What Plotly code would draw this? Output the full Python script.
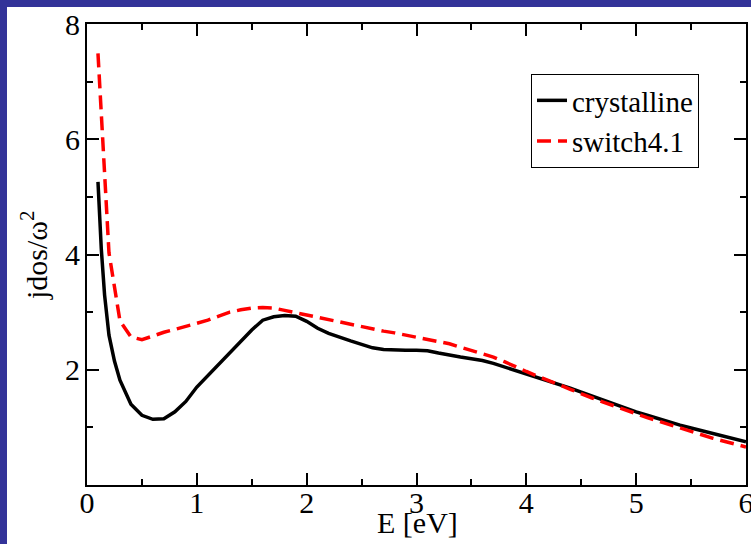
import plotly.graph_objects as go

# ---- data ----
e_cryst = [0.1, 0.13, 0.16, 0.2, 0.25, 0.3, 0.4, 0.5, 0.6, 0.7, 0.8, 0.9, 1.0,
           1.1, 1.2, 1.3, 1.4, 1.5, 1.6, 1.7, 1.8, 1.9, 2.0, 2.1, 2.2, 2.3, 2.4,
           2.5, 2.6, 2.7, 2.8, 2.9, 3.0, 3.1, 3.2, 3.3, 3.4, 3.5, 3.6, 3.7, 3.8,
           3.9, 4.0, 4.1, 4.2, 4.3, 4.4, 4.5, 4.6, 4.7, 4.8, 4.9, 5.0, 5.1, 5.2,
           5.3, 5.4, 5.5, 5.6, 5.7, 5.8, 5.9, 6.0]
jdos_cryst = [5.26, 4.10, 3.30, 2.60, 2.15, 1.82, 1.40, 1.21, 1.14, 1.15, 1.27,
              1.45, 1.70, 1.90, 2.08, 2.28, 2.48, 2.69, 2.86, 2.92, 2.94, 2.93,
              2.84, 2.72, 2.63, 2.56, 2.50, 2.44, 2.38, 2.35, 2.34, 2.34, 2.34,
              2.33, 2.29, 2.25, 2.22, 2.19, 2.16, 2.11, 2.05, 1.98, 1.92, 1.86,
              1.80, 1.74, 1.68, 1.61, 1.54, 1.47, 1.40, 1.33, 1.27, 1.21, 1.15,
              1.10, 1.04, 0.99, 0.94, 0.89, 0.84, 0.80, 0.75]

e_switch = [0.1, 0.2, 0.3, 0.4, 0.5, 0.6, 0.7, 0.8, 0.9, 1.0, 1.1, 1.2, 1.3,
            1.4, 1.5, 1.6, 1.7, 1.8, 1.9, 2.0, 2.1, 2.2, 2.3, 2.4, 2.5, 2.6,
            2.7, 2.8, 2.9, 3.0, 3.1, 3.2, 3.3, 3.4, 3.5, 3.6, 3.7, 3.8, 3.9,
            4.0, 4.1, 4.2, 4.3, 4.4, 4.5, 4.6, 4.7, 4.8, 4.9, 5.0, 5.1, 5.2,
            5.3, 5.4, 5.5, 5.6, 5.7, 5.8, 5.9, 6.0]
jdos_switch = [7.49, 4.03, 2.85, 2.57, 2.52, 2.59, 2.65, 2.70, 2.75, 2.80, 2.86,
               2.93, 3.00, 3.04, 3.07, 3.08, 3.07, 3.03, 2.99, 2.95, 2.91, 2.86,
               2.83, 2.79, 2.75, 2.71, 2.67, 2.64, 2.60, 2.56, 2.53, 2.49, 2.45,
               2.39, 2.33, 2.28, 2.22, 2.14, 2.05, 1.97, 1.89, 1.82, 1.74, 1.66,
               1.58, 1.51, 1.44, 1.37, 1.31, 1.24, 1.17, 1.11, 1.05, 0.98, 0.93,
               0.87, 0.81, 0.76, 0.71, 0.66]

x_ticks = [0, 1, 2, 3, 4, 5, 6]
y_ticks = [0, 2, 4, 6, 8]
y_ticktext = ["", "2", "4", "6", "8"]
y_minor = [1, 3, 5, 7]

FONT = "Liberation Serif"

fig = go.Figure()
fig.add_trace(go.Scatter(x=e_cryst, y=jdos_cryst, mode="lines", name="crystalline",
                         line=dict(color="black", width=3.5)))
fig.add_trace(go.Scatter(x=e_switch, y=jdos_switch, mode="lines", name="switch4.1",
                         line=dict(color="#ff0000", width=3.5, dash="14px,7px")))

W, H = 751, 544
L, R, T, B = 87, 5, 24, 59
pw, ph = W - L - R, H - T - B

def px_to_paper_x(px):
    return (px - L) / pw

def px_to_paper_y(py):
    return (H - B - py) / ph

fig.update_layout(
    width=W, height=H,
    margin=dict(l=L, r=R, t=T, b=B, pad=0),
    paper_bgcolor="#333399",
    plot_bgcolor="white",
    font=dict(family=FONT, color="black", size=30),
    shapes=[dict(type="rect", xref="paper", yref="paper", layer="below",
                 x0=px_to_paper_x(7), x1=px_to_paper_x(770),
                 y0=px_to_paper_y(570), y1=px_to_paper_y(7),
                 fillcolor="white", line=dict(width=0))],
    showlegend=True,
    legend=dict(x=px_to_paper_x(531), y=px_to_paper_y(121), xanchor="left", yanchor="middle",
                bgcolor="white", bordercolor="black", borderwidth=1,
                font=dict(family=FONT, size=29, color="black"),
                tracegroupgap=0, itemwidth=30),
    annotations=[
        dict(text="E [eV]", xref="paper", yref="paper", x=px_to_paper_x(417),
             y=px_to_paper_y(522), xanchor="center", yanchor="middle", showarrow=False,
             font=dict(family=FONT, size=30, color="black")),
        dict(text="jdos/ω<sup>2</sup>", xref="paper", yref="paper", x=px_to_paper_x(34),
             y=px_to_paper_y(255), xanchor="center", yanchor="middle", showarrow=False,
             textangle=-90, font=dict(family=FONT, size=30, color="black")),
    ],
)

fig.update_xaxes(range=[0, 6], tickmode="array", tickvals=x_ticks,
                 ticks="inside", ticklen=12, tickwidth=1.5, tickcolor="black",
                 minor=dict(dtick=0.5, ticks="inside", ticklen=6, tickwidth=1.5, tickcolor="black"),
                 showline=True, linewidth=2, linecolor="black", mirror="ticks",
                 showgrid=False, zeroline=False, ticklabeloverflow="allow",
                 ticklabelstandoff=-10, automargin=False,
                 tickfont=dict(family=FONT, size=30, color="black"))
fig.update_yaxes(range=[0, 8], tickmode="array", tickvals=y_ticks, ticktext=y_ticktext,
                 ticks="inside", ticklen=12, tickwidth=1.5, tickcolor="black",
                 minor=dict(tickmode="array", tickvals=y_minor, ticks="inside", ticklen=6,
                            tickwidth=1.5, tickcolor="black"),
                 showline=True, linewidth=2, linecolor="black", mirror="ticks",
                 showgrid=False, zeroline=False, ticklabeloverflow="allow",
                 ticklabelstandoff=-1, automargin=False,
                 tickfont=dict(family=FONT, size=30, color="black"))

fig.write_html("out.html", config={"displayModeBar": False},
               post_script="document.body.style.margin='0';document.body.style.overflow='hidden';")
